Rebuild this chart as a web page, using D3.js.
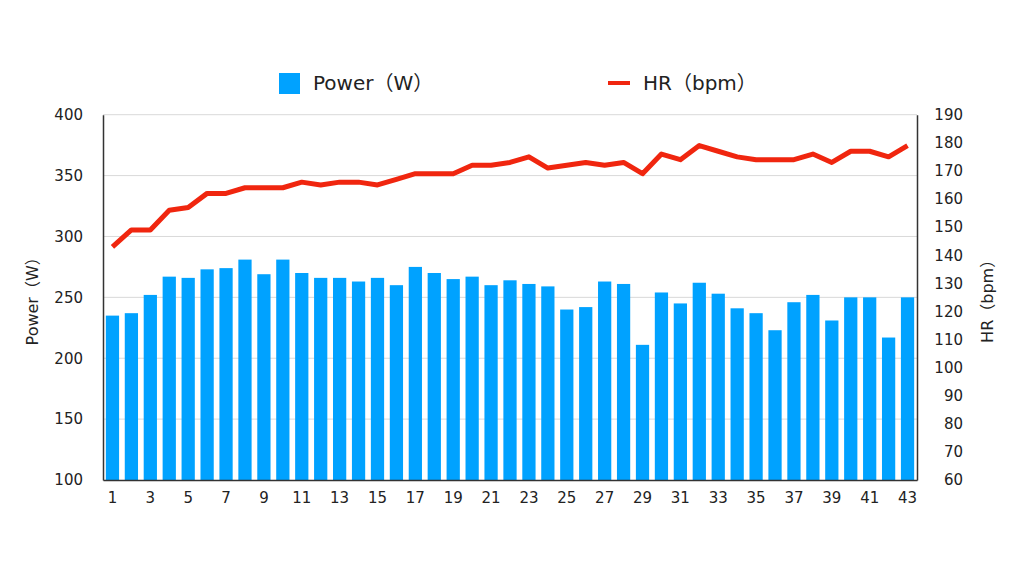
<!DOCTYPE html>
<html><head><meta charset="utf-8">
<script src="https://cdn.jsdelivr.net/npm/d3@7"></script>
<style>
html,body{margin:0;padding:0;background:#fff;}
text{font-family:"DejaVu Sans","Noto Sans CJK JP",sans-serif;fill:#222;}
</style></head>
<body>
<svg id="chart" width="1024" height="576"></svg>
<script>
const categories = d3.range(1, 44).map(String);
const powerValues = [235,237,252,267,266,273,274,281,269,281,270,266,266,263,266,260,275,270,265,267,260,264,261,259,240,242,263,261,211,254,245,262,253,241,237,223,246,252,231,250,250,217,250];
const hrValues = [143,149,149,156,157,162,162,164,164,164,166,165,166,166,165,167,169,169,169,172,172,173,175,171,172,173,172,173,169,176,174,179,177,175,174,174,174,176,173,177,177,175,179];
const powerTicks = [100,150,200,250,300,350,400];
const hrTicks = [60,70,80,90,100,110,120,130,140,150,160,170,180,190];
const xTickLabels = categories.filter((d,i) => i % 2 === 0);
const seriesNames = ["Power（W）", "HR（bpm）"];

const svg = d3.select("#chart");
const L = 103, R = 917, T = 114.7, B = 480;

const x = d3.scaleBand().domain(categories).range([L, R]).paddingInner(0.3).paddingOuter(0.15);
const yP = d3.scaleLinear().domain([100, 400]).range([B, T]);
const yH = d3.scaleLinear().domain([60, 190]).range([B, T]);

// gridlines
svg.append("g").selectAll("line").data(powerTicks.slice(1)).join("line")
  .attr("x1", L).attr("x2", R).attr("y1", d => yP(d)).attr("y2", d => yP(d))
  .attr("stroke", "#d9d9d9").attr("stroke-width", 1);

// bars
svg.append("g").selectAll("rect").data(powerValues).join("rect")
  .attr("x", (d,i) => x(categories[i])).attr("width", x.bandwidth())
  .attr("y", d => yP(d)).attr("height", d => B - yP(d))
  .attr("fill", "#00a2ff");

// line
const line = d3.line().x((d,i) => x(categories[i]) + x.bandwidth()/2).y(d => yH(d));
svg.append("path").datum(hrValues).attr("d", line)
  .attr("fill", "none").attr("stroke", "#f0260f").attr("stroke-width", 5)
  .attr("stroke-linejoin", "round");

// axes
const axL = svg.append("g").attr("transform", `translate(${L},0)`)
  .call(d3.axisLeft(yP).tickValues(powerTicks).tickSize(0).tickPadding(20));
axL.select(".domain").attr("stroke", "#333").attr("stroke-width", 1.5);
axL.selectAll("text").attr("font-size", 15).attr("fill", "#222")
  .attr("font-family", "DejaVu Sans");

const axR = svg.append("g").attr("transform", `translate(${R},0)`)
  .call(d3.axisRight(yH).tickValues(hrTicks).tickSize(0).tickPadding(0));
axR.select(".domain").attr("stroke", "#333").attr("stroke-width", 1.5);
axR.selectAll("text").attr("font-size", 15).attr("fill", "#222")
  .attr("font-family", "DejaVu Sans").attr("text-anchor", "end").attr("x", 963 - R);

const axB = svg.append("g").attr("transform", `translate(0,${B})`)
  .call(d3.axisBottom(x).tickValues(xTickLabels).tickSize(0).tickPadding(12));
axB.select(".domain").attr("stroke", "#333").attr("stroke-width", 1.5);
axB.selectAll("text").attr("font-size", 15).attr("fill", "#222")
  .attr("font-family", "DejaVu Sans");

// axis titles
svg.append("text").attr("transform", `translate(38,${(T+B)/2}) rotate(-90)`)
  .attr("text-anchor", "middle").attr("font-size", 16).text(seriesNames[0]);
svg.append("text").attr("transform", `translate(993,${(T+B)/2}) rotate(-90)`)
  .attr("text-anchor", "middle").attr("font-size", 16).text(seriesNames[1]);

// legend
const lg = svg.append("g");
lg.append("rect").attr("x", 279).attr("y", 73).attr("width", 21).attr("height", 21).attr("fill", "#00a2ff");
lg.append("text").attr("x", 313).attr("y", 90).attr("font-size", 20).text(seriesNames[0]);
lg.append("line").attr("x1", 608).attr("x2", 630).attr("y1", 83).attr("y2", 83)
  .attr("stroke", "#f0260f").attr("stroke-width", 4);
lg.append("text").attr("x", 643).attr("y", 90).attr("font-size", 20).text(seriesNames[1]);
</script>
</body></html>
